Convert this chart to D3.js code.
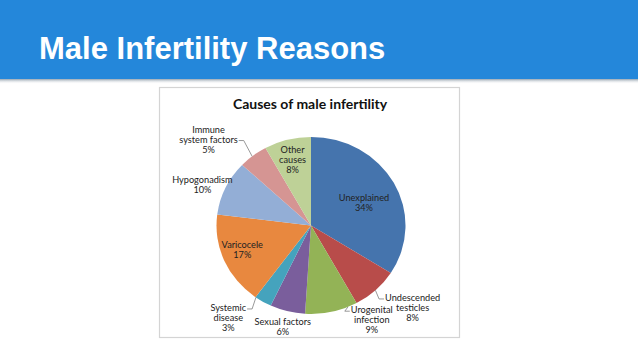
<!DOCTYPE html>
<html lang="en">
<head>
<meta charset="UTF-8">
<title>Male Infertility Reasons</title>
<script src="https://d3js.org/d3.v7.min.js"></script>
<style>
    body { margin: 0; background: #fff; }
    .slide-title { font-family: "Liberation Sans", Arial, sans-serif; font-weight: bold; fill: #fff; }
    .chart-title { font-family: Lato, "Open Sans", sans-serif; font-weight: bold; fill: #111; }
    .pie-label { font-family: Lato, "Open Sans", sans-serif; fill: #222; }
    .leader { fill: none; stroke: #7f7f7f; stroke-width: 0.8px; }
</style>
</head>
<body>
<svg width="638" height="359"></svg>
<script>
    // data
    const causes = ["Unexplained", "Undescended testicles", "Urogenital infection", "Sexual factors",
        "Systemic disease", "Varicocele", "Hypogonadism", "Immune system factors", "Other causes"];
    const shares = [34, 8, 9, 6, 3, 17, 10, 5, 8];
    const labelLines = [["Unexplained"], ["Undescended", "testicles"], ["Urogenital", "infection"],
        ["Sexual factors"], ["Systemic", "disease"], ["Varicocele"], ["Hypogonadism"],
        ["Immune", "system factors"], ["Other", "causes"]];
    const colors = ["#4574ad", "#b84c4a", "#93b356", "#7a5e9c", "#45a3bd", "#e8883f",
        "#93aed6", "#d59593", "#bed197"];

    // label layout: inside?, nudge, side where the leader line attaches
    const labelInside = [true, false, false, false, false, true, false, false, true];
    const labelNudge = [[-5, 7], [24, 5], [36, -9], [0, -2], [-25, 1], [-8, 0], [-6, 5], [-33, -2], [-2, -6]];
    const leaderSide = [null, "left", "left", null, "right", null, null, "right", null];

    const svg = d3.select("svg");

    // header band
    const defs = svg.append("defs");
    const grad = defs.append("linearGradient").attr("id", "shadow").attr("x1", 0).attr("x2", 0).attr("y1", 0).attr("y2", 1);
    grad.append("stop").attr("offset", 0).attr("stop-color", "#8a9aa8").attr("stop-opacity", 0.9);
    grad.append("stop").attr("offset", 1).attr("stop-color", "#ffffff").attr("stop-opacity", 0);
    svg.append("rect").attr("x", 0).attr("y", 79).attr("width", 638).attr("height", 5).attr("fill", "url(#shadow)");
    svg.append("rect").attr("x", 0).attr("y", 0).attr("width", 638).attr("height", 79).attr("fill", "#2487da");
    svg.append("text").attr("class", "slide-title")
        .attr("x", 39).attr("y", 59).attr("font-size", 31)
        .text("Male Infertility Reasons");

    // chart frame
    svg.append("rect").attr("x", 159.5).attr("y", 87.5).attr("width", 300).attr("height", 250)
        .attr("fill", "#fff").attr("stroke", "#d4d4d4").attr("stroke-width", 1.2);
    svg.append("text").attr("class", "chart-title")
        .attr("x", 310).attr("y", 109).attr("text-anchor", "middle").attr("font-size", 14)
        .text("Causes of male infertility");

    const cx = 311, cy = 225.5, R = 94.5, squash = 0.937;
    const pie = d3.pie().sort(null).value(d => d)(shares);
    const arc = d3.arc().innerRadius(0).outerRadius(R);

    const g = svg.append("g").attr("transform", `translate(${cx},${cy}) scale(1,${squash})`);
    g.selectAll("path").data(pie).enter().append("path")
        .attr("d", arc)
        .attr("fill", (d, i) => colors[i]);

    // point on the (squashed) pie at angle a and radius r
    const pt = (a, r) => [cx + r * Math.sin(a), cy - r * Math.cos(a) * squash];

    const lineH = 10;
    const labels = svg.append("g");
    pie.forEach((d, i) => {
        const mid = (d.startAngle + d.endAngle) / 2;
        const base = pt(mid, labelInside[i] ? 0.7 * R : 1.2 * R);
        const x = base[0] + labelNudge[i][0];
        const yc = base[1] + labelNudge[i][1];
        const lines = labelLines[i].concat([shares[i] + "%"]);
        const y0 = yc - (lines.length - 1) * lineH / 2;
        const t = labels.append("text").attr("class", "pie-label")
            .attr("text-anchor", "middle").attr("font-size", 9.2);
        lines.forEach((s, k) => {
            t.append("tspan").attr("x", x).attr("y", y0 + k * lineH).attr("dy", "0.35em").text(s);
        });

        if (leaderSide[i]) {
            // attach to the first or second line end, then to the slice rim
            const row = i === 7 ? 1 : 0;
            const node = t.selectAll("tspan").nodes()[row];
            const w = node.getComputedTextLength();
            const ly = y0 + row * lineH + 1;
            const lx = leaderSide[i] === "left" ? x - w / 2 - 1 : x + w / 2 + 1;
            const step = leaderSide[i] === "left" ? -5 : 5;
            let a = Math.atan2(lx - cx, -(ly - cy) / squash);
            if (a < 0) a += 2 * Math.PI;
            a = Math.max(d.startAngle, Math.min(d.endAngle, a));
            const rim = pt(a, R);
            labels.append("polyline").attr("class", "leader")
                .attr("points", [[lx, ly], [lx + step, ly], rim].map(p => p.join(",")).join(" "));
        }
    });
</script>
</body>
</html>
